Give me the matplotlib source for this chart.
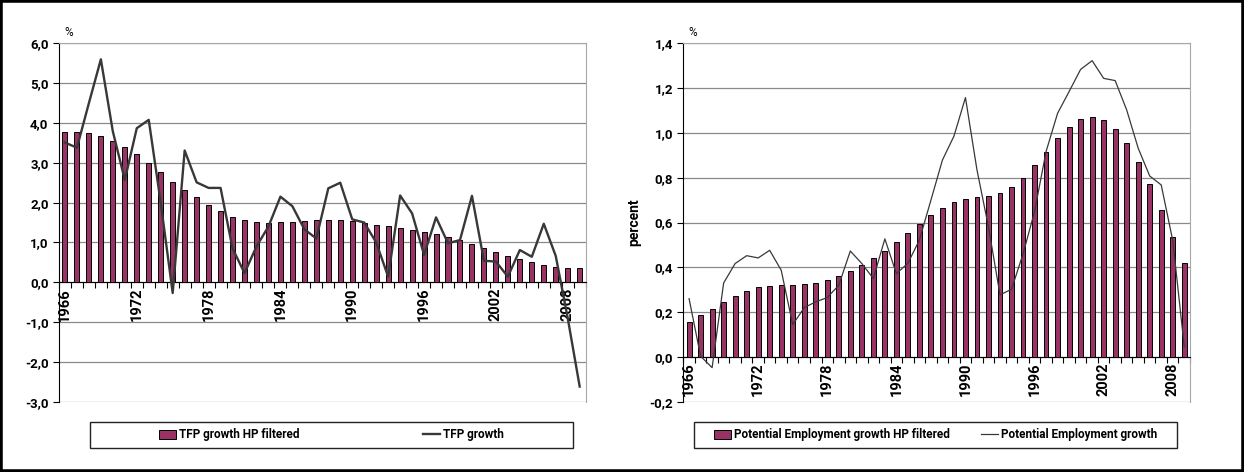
import numpy as np
import matplotlib
matplotlib.use("Agg")
import matplotlib.pyplot as plt
from matplotlib.patches import Rectangle
from matplotlib.ticker import FuncFormatter, FixedLocator

plt.rcParams['font.family'] = ['Roboto', 'DejaVu Sans']

# categories: one bar per year
years = list(range(1966, 2010))

# TFP growth, HP filtered (bars) and raw (line), %
tfp_hp = [3.78, 3.78, 3.76, 3.68, 3.56, 3.39, 3.21, 3.00, 2.76, 2.53,
          2.33, 2.13, 1.95, 1.79, 1.65, 1.56, 1.51, 1.49, 1.51, 1.52,
          1.55, 1.56, 1.57, 1.56, 1.54, 1.50, 1.45, 1.41, 1.36, 1.31,
          1.26, 1.21, 1.13, 1.05, 0.95, 0.85, 0.76, 0.67, 0.58, 0.50,
          0.44, 0.38, 0.35, 0.37]
tfp = [3.51, 3.38, 4.50, 5.60, 3.79, 2.57, 3.87, 4.08, 2.00, -0.27,
       3.31, 2.51, 2.37, 2.37, 0.85, 0.23, 0.90, 1.40, 2.15, 1.91,
       1.33, 1.10, 2.36, 2.50, 1.58, 1.50, 1.00, 0.14, 2.18, 1.73,
       0.69, 1.63, 0.98, 1.06, 2.17, 0.54, 0.52, 0.14, 0.81, 0.64,
       1.47, 0.66, -0.90, -2.62]

# potential employment growth, HP filtered (bars) and raw (line), %
emp_hp = [0.155, 0.185, 0.216, 0.247, 0.274, 0.296, 0.310, 0.318, 0.320, 0.321,
          0.324, 0.332, 0.344, 0.360, 0.382, 0.409, 0.440, 0.475, 0.513, 0.553,
          0.594, 0.633, 0.667, 0.691, 0.705, 0.713, 0.719, 0.732, 0.758, 0.800,
          0.855, 0.915, 0.976, 1.025, 1.061, 1.071, 1.060, 1.019, 0.955, 0.870,
          0.771, 0.656, 0.537, 0.421]
emp = [0.260, 0.003, -0.048, 0.330, 0.417, 0.452, 0.442, 0.476, 0.387, 0.144,
       0.220, 0.246, 0.265, 0.320, 0.473, 0.417, 0.350, 0.527, 0.372, 0.418,
       0.522, 0.700, 0.879, 0.986, 1.158, 0.835, 0.580, 0.277, 0.302, 0.460,
       0.649, 0.917, 1.088, 1.185, 1.284, 1.323, 1.244, 1.234, 1.103, 0.932,
       0.808, 0.768, 0.520, 0.046]

left_ticks = [-3.0, -2.0, -1.0, 0.0, 1.0, 2.0, 3.0, 4.0, 5.0, 6.0]
right_ticks = [-0.2, 0.0, 0.2, 0.4, 0.6, 0.8, 1.0, 1.2, 1.4]

BAR = '#993366'
LINE = '#383838'


def comma(v, pos):
    return f"{v:.1f}".replace('.', ',')


def panel(ax, hp, raw, yticks, lw):
    x = np.arange(len(years))
    bars = ax.bar(x, hp, width=0.42, color=BAR, edgecolor='black',
                  linewidth=0.7, zorder=3)
    line, = ax.plot(x, raw, color=LINE, lw=lw, zorder=4)
    ax.set_xlim(-0.5, len(years) - 0.5)
    ax.set_ylim(yticks[0], yticks[-1])
    ax.set_yticks(yticks)
    ax.yaxis.set_major_formatter(FuncFormatter(comma))
    ax.yaxis.grid(True, color='#8a8a8a', lw=0.9)
    ax.set_axisbelow(True)

    ax.spines['bottom'].set_position(('data', 0))
    ax.spines['bottom'].set_color('black')
    ax.spines['left'].set_color('black')
    for s in ('top', 'right'):
        ax.spines[s].set_color('#a8a8a8')

    lab_idx = [i for i, y in enumerate(years) if (y - 1966) % 6 == 0]
    ax.xaxis.set_major_locator(FixedLocator(lab_idx))
    ax.set_xticklabels([str(years[i]) for i in lab_idx], rotation=90,
                       fontsize=10.5, fontweight='bold')
    ax.xaxis.set_minor_locator(FixedLocator(np.arange(len(years) + 1) - 0.5))
    ax.tick_params(axis='x', which='major', length=0, pad=4)
    ax.tick_params(axis='x', which='minor', length=4, width=0.8, direction='out')
    ax.tick_params(axis='y', length=4, width=0.8, direction='out',
                   labelsize=9.5)
    for t in ax.get_yticklabels():
        t.set_fontweight('bold')
    ax.text(0.01, 1.012, '%', transform=ax.transAxes, fontsize=8.5,
            ha='left', va='bottom')
    return bars, line


def legend_box(fig, x0, handles, labels, spacing):
    y0, w, h = 0.0502, 0.3883, 0.0564
    fig.patches.append(Rectangle((x0, y0), w, h, transform=fig.transFigure,
                                 fill=False, edgecolor='#222222', lw=1.0))
    fig.legend(handles, labels, loc='center',
               bbox_to_anchor=(x0 + w / 2, y0 + h / 2), ncol=2,
               frameon=False, columnspacing=spacing, handlelength=1.45,
               handleheight=0.8, handletextpad=0.25,
               prop={'size': 8.5, 'weight': 'bold'})


def main():
    fig = plt.figure(figsize=(12.44, 4.72), dpi=100)

    ax1 = fig.add_axes([0.0474, 0.149, 0.4234, 0.759])
    b1, l1 = panel(ax1, tfp_hp, tfp, left_ticks, 1.7)

    ax2 = fig.add_axes([0.5493, 0.149, 0.4073, 0.759])
    b2, l2 = panel(ax2, emp_hp, emp, right_ticks, 0.9)
    ax2.set_ylabel('percent', fontsize=10, fontweight='bold', labelpad=6)

    legend_box(fig, 0.0723, [b1, l1],
               ['TFP growth HP filtered', 'TFP growth'], 10.4)
    legend_box(fig, 0.5579, [b2, l2],
               ['Potential Employment growth HP filtered',
                'Potential Employment growth'], 2.6)

    fig.patches.append(Rectangle((0, 0), 1, 1, transform=fig.transFigure,
                                 fill=False, edgecolor='black', lw=4))

    fig.savefig('out.png', dpi=100)


if __name__ == "__main__":
    main()
